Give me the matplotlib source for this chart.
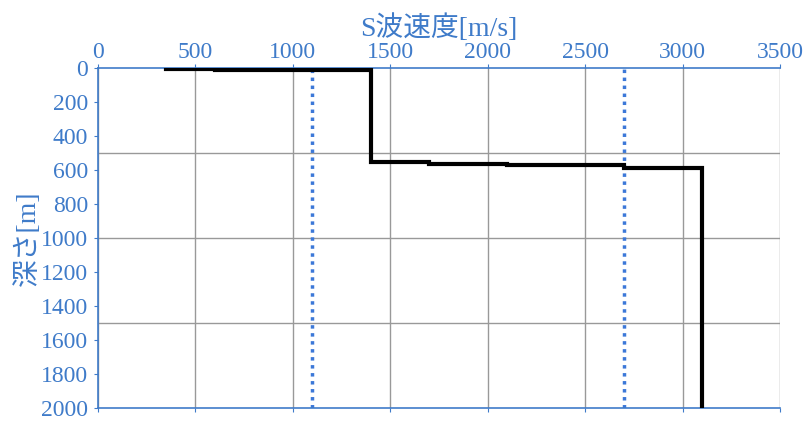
import numpy as np
import matplotlib.pyplot as plt
from matplotlib.ticker import MultipleLocator

# S-wave velocity layers [m/s] and top depth of each layer [m]
vs = [350, 600, 1400, 1700, 2100, 2700, 3100]
tops = [0, 3, 12, 555, 562, 572, 590]
bottom = 2000
ref_lines = [1100, 2700]
depth_grid = [500, 1000, 1500]

# step profile: vertical in each layer, horizontal at each boundary
bounds = tops + [bottom]
xs = np.repeat(vs, 2)
ys = np.array([[bounds[i], bounds[i + 1]] for i in range(len(vs))]).ravel()

blue = '#3F7BC9'
plt.rcParams['font.family'] = ['Liberation Serif', 'Noto Sans CJK JP']

fig = plt.figure(figsize=(8.1, 4.26), dpi=100)
ax = fig.add_axes([0.121, 0.042, 0.842, 0.798])

ax.plot(xs, ys, color='black', linewidth=3, solid_joinstyle='miter', zorder=3)
for x in ref_lines:
    ax.axvline(x, color='#3C78D8', linestyle=(0, (1, 1.3)), linewidth=2.5, zorder=2)
for d in depth_grid:
    ax.axhline(d, color='#999999', linewidth=1, zorder=1)

ax.set_xlim(0, 3500)
ax.set_ylim(2000, 0)
ax.xaxis.set_major_locator(MultipleLocator(500))
ax.yaxis.set_major_locator(MultipleLocator(200))
ax.xaxis.tick_top()
ax.xaxis.set_label_position('top')
ax.tick_params(axis='x', which='major', top=True, bottom=True, direction='out',
               length=3, color=blue, labelcolor=blue, labelsize=17, pad=1)
ax.tick_params(axis='y', which='major', direction='out', length=3, color=blue,
               labelcolor=blue, labelsize=17, pad=4)
ax.grid(axis='x', which='major', color='#999999', linewidth=1)

for s in ['top', 'left', 'bottom']:
    ax.spines[s].set_color(blue)
    ax.spines[s].set_linewidth(1.2)
ax.spines['right'].set_visible(False)

ax.set_xlabel('S波速度[m/s]', color=blue, fontsize=20, labelpad=4)
ax.set_ylabel('深さ[m]', color=blue, fontsize=20, labelpad=0)

fig.savefig('out.png', dpi=100)
